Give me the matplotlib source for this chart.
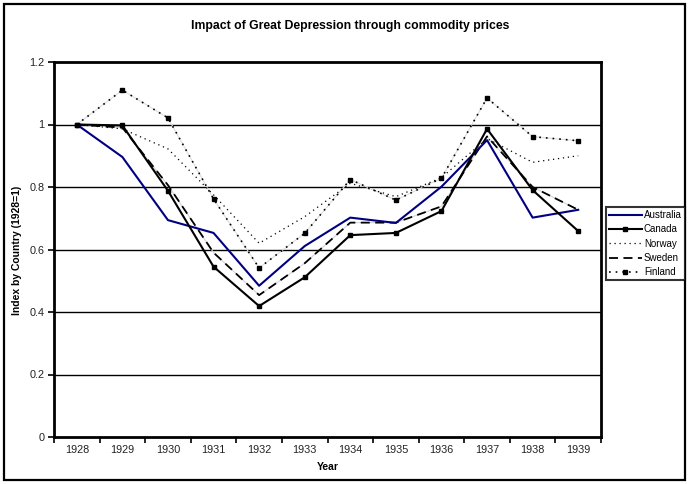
import matplotlib

matplotlib.use("Agg")
import matplotlib.pyplot as plt
from matplotlib.patches import Rectangle

plt.rcParams["font.family"] = ["Liberation Sans", "DejaVu Sans"]

years = ["1928", "1929", "1930", "1931", "1932", "1933",
         "1934", "1935", "1936", "1937", "1938", "1939"]
australia = [1.0, 0.896, 0.694, 0.653, 0.484, 0.611, 0.702, 0.685, 0.801, 0.950, 0.702, 0.727]
canada = [1.0, 0.997, 0.788, 0.545, 0.419, 0.511, 0.646, 0.653, 0.723, 0.986, 0.790, 0.659]
norway = [1.0, 0.986, 0.922, 0.775, 0.620, 0.705, 0.812, 0.769, 0.830, 0.955, 0.879, 0.900]
sweden = [1.0, 0.990, 0.806, 0.590, 0.454, 0.556, 0.686, 0.686, 0.738, 0.962, 0.800, 0.727]
finland = [1.0, 1.110, 1.021, 0.762, 0.541, 0.652, 0.824, 0.758, 0.828, 1.085, 0.961, 0.948]

_INK = "#222222"

fig = plt.figure(figsize=(6.89, 4.84), dpi=100)
fig.patches.append(Rectangle((0.006, 0.008), 0.988, 0.984, transform=fig.transFigure,
                             fill=False, edgecolor="black", linewidth=1.6))
ax = fig.add_axes([54 / 689, 1 - 437 / 484, 547 / 689, 375 / 484])

x = range(len(years))
# faint grey under-strokes seen between dashes/dots in the original
ax.plot(x, sweden, color="#d4d4d4", linewidth=0.8, zorder=2)
ax.plot(x, finland, color="#dddddd", linewidth=0.8, zorder=2)

ax.plot(x, australia, color="#000080", linewidth=1.5, label="Australia", zorder=4)
ax.plot(x, canada, color="black", linewidth=1.5, marker="s", markersize=3,
        label="Canada", zorder=5)
ax.plot(x, norway, color="black", linewidth=0.9, linestyle=(0, (1, 3)),
        label="Norway", zorder=3)
ax.plot(x, sweden, color="black", linewidth=1.3, linestyle=(0, (5, 3)),
        label="Sweden", zorder=3)
ax.plot(x, finland, color="black", linewidth=1.2, linestyle=(0, (1, 3)),
        marker="s", markersize=3.3, label="Finland", zorder=3)

ax.set_xlim(-0.5, len(years) - 0.5)
ax.set_ylim(0, 1.2)
ax.set_yticks([0, 0.2, 0.4, 0.6, 0.8, 1.0, 1.2])
ax.set_yticklabels(["0", "0.2", "0.4", "0.6", "0.8", "1", "1.2"])
ax.set_xticks(list(x))
ax.set_xticklabels(years)
ax.set_xticks([i - 0.5 for i in range(len(years) + 1)], minor=True)
ax.tick_params(axis="x", which="major", length=0, pad=6, labelsize=7.8, labelcolor=_INK)
ax.tick_params(axis="x", which="minor", length=4, width=1.2, direction="out")
ax.tick_params(axis="y", length=4, width=1.2, direction="out", labelsize=7.8,
               labelcolor=_INK, pad=3)
for yv in [0.2, 0.4, 0.6, 0.8, 1.0]:
    ax.axhline(yv, color="black", linewidth=1.0, zorder=1)
for s in ax.spines.values():
    s.set_linewidth(2)

ax.set_xlabel("Year", fontsize=7.5, fontweight="bold", labelpad=5)
fig.text(17 / 689, 1 - 250 / 484, "Index by Country (1928=1)", rotation=90,
         ha="center", va="center", fontsize=7.5, fontweight="bold")
fig.text(0.508, 0.946, "Impact of Great Depression through commodity prices",
         ha="center", va="center", fontsize=8.8, fontweight="bold")

leg = fig.legend(loc="upper left", bbox_to_anchor=(606 / 689, 1 - 207 / 484),
                 fontsize=7, frameon=True, fancybox=False, borderpad=0.3,
                 labelspacing=0.45, handlelength=3.4, handletextpad=0.2,
                 borderaxespad=0)
leg.get_frame().set_edgecolor("black")
leg.get_frame().set_linewidth(1.5)

fig.savefig("out.png", dpi=100, facecolor="white")
